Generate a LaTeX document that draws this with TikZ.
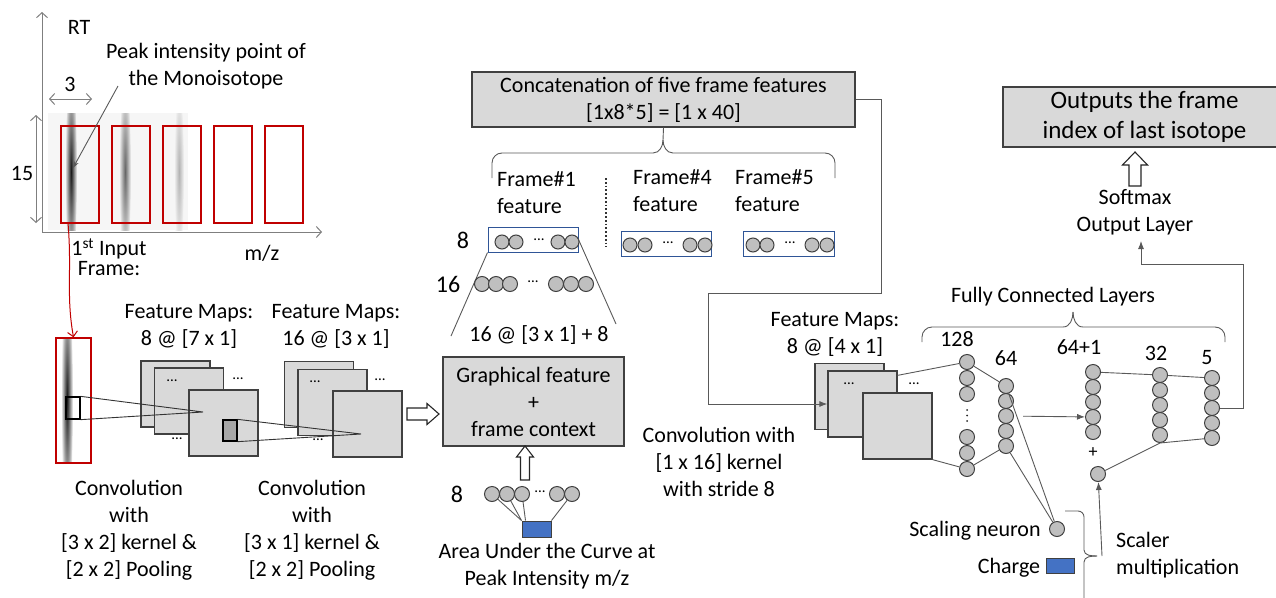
\documentclass[tikz,border=0pt]{standalone}
\usepackage{fontspec}
\setmainfont{Carlito}
\usetikzlibrary{arrows.meta,positioning,calc}
\definecolor{frred}{HTML}{C00000}
\definecolor{edgegray}{HTML}{404040}
\definecolor{fmfill}{HTML}{D9D9D9}
\definecolor{nfill}{HTML}{BFBFBF}
\definecolor{wiregray}{HTML}{595959}
\definecolor{axgray}{HTML}{7F7F7F}
\definecolor{boxblue}{HTML}{2F5597}
\definecolor{chgblue}{HTML}{4472C4}
\definecolor{bgfaint}{HTML}{F6F6F6}
\tikzset{
  >={Latex[length=8pt,width=6pt]},
  lbl/.style={font=\fontsize{22}{27}\selectfont,inner sep=0pt,align=center},
  numl/.style={font=\fontsize{24}{28}\selectfont,inner sep=0pt},
  dots/.style={font=\fontsize{15}{15}\selectfont,inner sep=0pt},
  wire/.style={draw=wiregray,line width=0.9pt},
  axis/.style={draw=axgray,line width=1pt,-{Straight Barb[length=5pt,width=11pt]}},
  dim/.style={draw=axgray,line width=1pt,
    {Straight Barb[length=5pt,width=11pt]}-{Straight Barb[length=5pt,width=11pt]}},
  frm/.style={draw=frred,line width=1.4pt,minimum width=38pt,minimum height=97pt,inner sep=0pt},
  kern/.style={draw=black,line width=1.3pt,minimum width=14pt,minimum height=22pt,inner sep=0pt},
  fmap/.style={draw=edgegray,fill=fmfill,line width=1.3pt,minimum width=69pt,
               minimum height=66pt,inner sep=0pt},
  nrn/.style={circle,draw=edgegray,fill=nfill,line width=1pt,minimum size=15pt,inner sep=0pt},
  fbox/.style={draw=boxblue,line width=1pt,minimum width=90pt,minimum height=25pt,inner sep=0pt},
  gbox/.style={draw=edgegray,fill=fmfill,line width=1.3pt,inner sep=0pt,align=center,
               font=\fontsize{22}{27}\selectfont},
  blk/.style={draw=edgegray,fill=chgblue,line width=1pt,inner sep=0pt},
  hollow/.style={draw=black!85,fill=white,line width=1.1pt,line join=miter},
}
\begin{document}
\begin{tikzpicture}[x=1pt,y=-1pt]
\useasboundingbox (0,0) rectangle (1276,597);
% input frames
\fill[bgfaint] (48,113) rectangle (188,230);
\begin{scope}
  \clip (48,113) rectangle (188,230);
  \shade[inner color=black!90,outer color=bgfaint] (71,172) ellipse [x radius=6,y radius=105];
  \shade[inner color=black!60,outer color=bgfaint] (125,172) ellipse [x radius=6,y radius=95];
  \shade[inner color=black!30,outer color=bgfaint] (179,172) ellipse [x radius=5,y radius=85];
\end{scope}
\foreach \i in {1,...,5}
  \node[frm] (f\i) at ({80+51*(\i-1)},174.5) {};
\coordinate (o) at (42,232);
\draw[axis] (o) -- (42,12);
\draw[axis] (o) -- (322,232);
\node[lbl] (rt) at (79,27) {RT};
\node[lbl] (peak) at (206,66) {Peak intensity point of\\the Monoisotope};
\coordinate (pka) at (118,86);
\coordinate (pkb) at (73,168);
\draw[wire,-{Stealth[length=7pt,width=5pt]}] (pka) -- (pkb);
\node[lbl] (w3) at (70,84) {3};
\draw[dim] (49,99) -- (92,99);
\node[lbl] (h15) at (22,173) {15};
\draw[dim] (36,115) -- (36,223);
\node[lbl,font=\fontsize{22}{20}\selectfont] (inp) at (109,257) {1\textsuperscript{st} Input\\Frame:};
\node[lbl] (mz) at (262,253) {m/z};

% first convolution
\begin{scope}
  \clip (56,338) rectangle (91,463);
  \shade[inner color=black!90,outer color=white] (67,400) ellipse [x radius=6,y radius=125];
\end{scope}
\node[frm,minimum width=35pt,minimum height=125pt] (inframe) at (73.5,400.5) {};
\coordinate (rs) at (68,223);
\draw[frred,line width=1pt,-{Straight Barb[length=5pt,width=10pt]}]
  (rs) .. controls (72,270) and (66,295) .. (inframe.north);
\node[kern] (k1) at (73,408) {};
\node[fmap] (fa1) at (175.5,394) {};
\node[fmap] (fa2) at (189,401) {};
\node[fmap] (fa3) at (223.5,423) {};
\node[kern,fill=black!35,minimum height=21pt] (k2) at (230,430.5) {};
\node[dots] (da1) at (172,381) {...};
\node[dots] (da2) at (238,379) {...};
\node[dots] (da3) at (177,439) {...};
\node[lbl] (fmA) at (189,326) {Feature Maps:\\8 @ [7 x 1]};
\node[lbl] (cvA) at (129,530) {Convolution\\with\\{}[3 x 2] kernel \&\\{}[2 x 2] Pooling};

% second convolution
\node[fmap] (fb1) at (319,394.5) {};
\node[fmap] (fb2) at (332.5,402.5) {};
\node[fmap] (fb3) at (367.5,424) {};
\node[dots] (db1) at (315,382) {...};
\node[dots] (db2) at (380,380) {...};
\node[dots] (db3) at (318,440) {...};
\node[lbl] (fmB) at (336,326) {Feature Maps:\\16 @ [3 x 1]};
\node[lbl] (cvB) at (312,530) {Convolution\\with\\{}[3 x 1] kernel \&\\{}[2 x 2] Pooling};
\coordinate (p1) at (203,412);
\coordinate (p2) at (361,434);
\draw[wire,black!80] (k1.north east) -- (p1) -- (k1.south east);
\draw[wire,black!80] (k2.north east) -- (p2) -- (k2.south east);

% graphical feature + frame context
\draw[hollow] (407,408) -- (427,408) -- (427,403.5) -- (439,414) -- (427,424.5)
  -- (427,420) -- (407,420) -- cycle;
\node[gbox,minimum width=181pt,minimum height=89pt] (gf) at (533.5,401.5)
  {Graphical feature\\+\\frame context};
\draw[hollow] (520.5,480) -- (520.5,457) -- (516.5,457) -- (525,446) -- (533.5,457)
  -- (529.5,457) -- (529.5,480) -- cycle;
\node[numl] (n8b) at (457,494) {8};
\node[blk,minimum width=29pt,minimum height=16pt] (auc) at (536.5,529) {};
\foreach \x [count=\i] in {492,507,522,557,572}
  \node[nrn] (a\i) at (\x,494) {};
\node[dots] (ad) at (540,492) {...};
\draw[wire] (a1) -- (auc.north west);
\draw[wire] (a2) -- (auc.north west);
\draw[wire] (a3) -- ($(auc.north west)+(4,0)$);
\draw[wire] (a5) -- (auc.north east);
\node[lbl] (aucl) at (547,566) {Area Under the Curve at\\Peak Intensity m/z};

% frame features
\node[lbl] (r16l) at (539,335) {16 @ [3 x 1] + 8};
\node[fbox] (fr1) at (533,239.5) {};
\node[fbox] (fr4) at (666,243.5) {};
\node[fbox,minimum width=91pt] (fr5) at (788.5,243.5) {};
\foreach \x [count=\i] in {502,516,558,572}
  \node[nrn,minimum size=14pt] (g1\i) at (\x,242) {};
\foreach \x [count=\i] in {630,645,690,705}
  \node[nrn,minimum size=14pt] (g4\i) at (\x,245) {};
\foreach \x [count=\i] in {753,767,812,827}
  \node[nrn,minimum size=14pt] (g5\i) at (\x,245) {};
\node[dots] (gd1) at (539,240) {...};
\node[dots] (gd4) at (668,243) {...};
\node[dots] (gd5) at (790,243) {...};
\coordinate (tl) at (451,336);
\coordinate (tr) at (616,324);
\draw[wire] (tl) -- (fr1.south west);
\draw[wire] (tr) -- (fr1.east);
\foreach \x [count=\i] in {482,496,510,556,571,586}
  \node[nrn] (h\i) at (\x,284) {};
\node[dots] (hd) at (533,282) {...};
\node[numl] (n16) at (448,284) {16};
\node[numl] (n8a) at (463,240) {8};
\draw[black!80,line width=1.8pt,dotted] (606,178) -- (606,247);
\node[lbl,anchor=west,align=left] (ft1) at (497,193) {Frame\#1\\feature};
\node[lbl,anchor=west,align=left] (ft4) at (633,191) {Frame\#4\\feature};
\node[lbl,anchor=west,align=left] (ft5) at (735,191) {Frame\#5\\feature};
\node[gbox,minimum width=383pt,minimum height=55pt] (concat) at (663.5,99.5)
  {Concatenation of five frame features\\{}[1x8*5] = [1 x 40]};
\draw[wire] (492,178) -- (492,163) to[out=90,in=180] (502,153) -- (653,153)
  to[out=0,in=-90] (663,140) -- (concat.south);
\draw[wire] (663,140) to[out=-90,in=180] (673,153) -- (825,153)
  to[out=0,in=90] (835,163) -- (835,178);

% third convolution
\node[fmap] (fc1) at (849.5,396.5) {};
\node[fmap] (fc2) at (862.5,404) {};
\node[fmap] (fc3) at (897.5,426) {};
\node[dots] (dc1) at (849,384) {...};
\node[dots] (dc2) at (914,384) {...};
\node[lbl] (fmC) at (835,334) {Feature Maps:\\8 @ [4 x 1]};
\node[lbl] (cvC) at (719,461.5) {Convolution with\\{}[1 x 16] kernel\\with stride 8};
\coordinate (c1) at (881,293);
\coordinate (c2) at (708,293);
\draw[wire,->] (concat.east) -| (c1) -- (c2) |- (fc2.west);

% fully connected layers
\node[lbl] (fcl) at (1053,297) {Fully Connected Layers};
\draw[wire] (922,342) -- (922,337) to[out=90,in=180] (932,327) -- (1063,327)
  to[out=0,in=-90] (1073,312);
\draw[wire] (1073,312) to[out=-90,in=180] (1083,327) -- (1215,327)
  to[out=0,in=90] (1225,337) -- (1225,342);
\node[lbl] (l128) at (957,339) {128};
\node[lbl] (l64) at (1006,358) {64};
\node[lbl] (l65) at (1079,347) {64+1};
\node[lbl] (l32) at (1156,353) {32};
\node[lbl] (l5) at (1207,358) {5};
\foreach \y [count=\i] in {362,378,394,437,453,469}
  \node[nrn] (c128-\i) at (967,\y) {};
\draw[black!85,line width=2pt,line cap=round,dash pattern=on 0pt off 5.5pt]
  (c128-3.south) ++(0,8) -- ++(0,12);
\foreach \y [count=\i] in {386,401,416,431,446}
  \node[nrn] (c64-\i) at (1006,\y) {};
\foreach \y [count=\i] in {372,387,402,417,432}
  \node[nrn] (c65-\i) at (1093,\y) {};
\foreach \y [count=\i] in {375,390,405,420,435}
  \node[nrn] (c32-\i) at (1160,\y) {};
\foreach \y [count=\i] in {378,393,408,423,438}
  \node[nrn] (c5-\i) at (1212,\y) {};
\node[nrn] (bias) at (1098,474) {};
\node[font=\fontsize{18}{18}\selectfont,inner sep=0pt] (plus) at (1093,453) {+};
\node[nrn] (sn) at (1057,529) {};
\draw[wire] ($(fc2.north east)+(0,5)$) -- (c128-1);
\draw[wire] (fc3.south east) -- (c128-6);
\draw[wire] (c128-1) -- (c64-1);
\draw[wire] (c128-6) -- (c64-5);
\draw[wire,->,shorten <=9pt] (c64-3) -- (c65-4);
\draw[wire] (c64-1) -- (sn);
\draw[wire] (c64-5) -- (sn);
\draw[wire] (c65-1) -- (c32-1);
\draw[wire] (c32-1) -- (c5-1);
\draw[wire] (c32-5.south) -- (c5-5);
\draw[wire] (bias) -- (c32-5.south);

% scaler
\node[lbl] (snl) at (975,531) {Scaling neuron};
\node[lbl] (chl) at (1009,568) {Charge};
\node[blk,minimum width=28pt,minimum height=15pt] (chg) at (1060,565.5) {};
\node[lbl,anchor=west,align=left] (scl) at (1116,555) {Scaler\\multiplication};
\draw[wire] (1065,511) -- (1078,511) to[out=0,in=90] (1084,517) -- (1084,550)
  to[out=-90,in=180] (1097,556);
\draw[wire] (1097,556) to[out=180,in=90] (1084,562) -- (1084,600);
\coordinate (sc) at (1102,556);
\draw[wire,->] (sc) -- (bias);

% output
\node[gbox,font=\fontsize{25}{30}\selectfont,minimum width=283pt,minimum height=60pt]
  (outb) at (1144.5,117) {Outputs the frame\\index of last isotope};
\draw[hollow] (1129,186) -- (1129,165) -- (1122.5,165) -- (1135,152) -- (1147.5,165)
  -- (1141,165) -- (1141,186) -- cycle;
\node[lbl] (sm) at (1135,212.5) {Softmax\\Output Layer};
\coordinate (r1) at (1243,264);
\coordinate (smt) at (1141,241);
\draw[wire,->] (c5-3.east) -| (r1) -| (smt);
\end{tikzpicture}
\end{document}
